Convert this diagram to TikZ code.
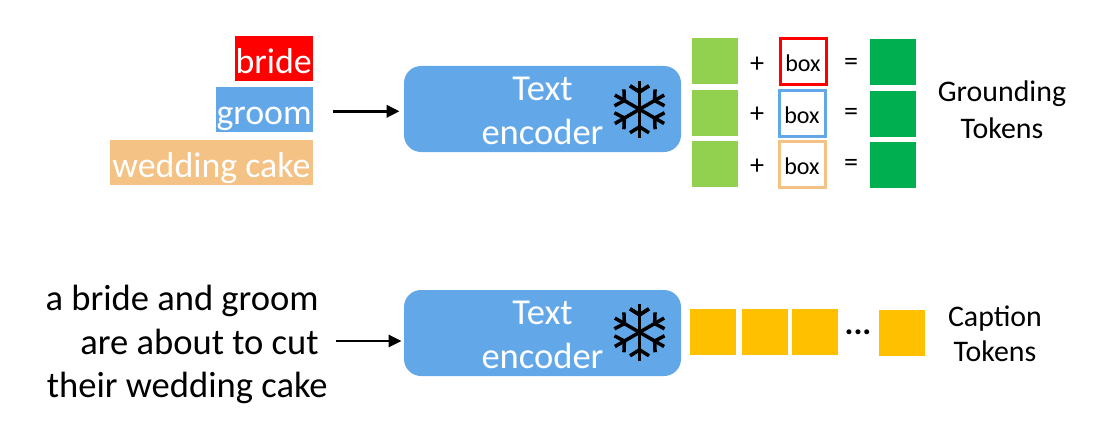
\documentclass[tikz,border=0pt]{standalone}
\usepackage{fontspec}
\setmainfont{Carlito}
\usetikzlibrary{calc,arrows.meta}
\definecolor{encblue}{HTML}{62A8E8}
\definecolor{tagred}{HTML}{FF0000}
\definecolor{tagorange}{HTML}{F4C284}
\definecolor{lgreen}{HTML}{92D050}
\definecolor{dgreen}{HTML}{00B050}
\definecolor{capyellow}{HTML}{FFC000}
\newcommand{\toprow}{\rule{0pt}{15pt}}
\tikzset{
  big/.style={font=\fontsize{20.8}{25}\selectfont},
  mid/.style={font=\fontsize{17}{21}\selectfont},
  tag/.style={font=\fontsize{20.4}{25}\selectfont,text=white,inner sep=0pt,inner xsep=0.5pt,text height=0.75cm,text depth=0.15cm,anchor=east},
  encoder/.style={big,text=white,fill=encblue,rounded corners=0.34cm,align=center,minimum width=5.54cm,minimum height=1.72cm,inner sep=0pt},
  token/.style={minimum size=0.92cm,inner sep=0pt},
  boxtok/.style={draw,line width=1.7pt,inner sep=0pt,text width=0.92cm,align=center,text height=0.66cm,text depth=0.26cm,font=\fontsize{13.7}{16}\selectfont},
  sign/.style={font=\fontsize{16}{18}\selectfont,inner sep=0pt},
  line/.style={big,inner sep=0pt,anchor=base east},
  conn/.style={-{Triangle[length=0.26cm,width=0.24cm]},line width=1.9pt}
}
\newcommand{\flake}[1]{
  \foreach \a in {90,150,...,450} {
    \draw [line width=2pt,rotate around={\a:(#1)}] (#1) -- ++(2.85,0);
    \draw [line width=2pt,rotate around={\a:(#1)}] ($(#1)+(2.35,0.95)$) -- ($(#1)+(1.75,0)$) -- ($(#1)+(2.35,-0.95)$);
  }
}
\begin{document}
\begin{tikzpicture}[scale=0.2]
\useasboundingbox (0,0) rectangle (109.8,-42.2);
% object names
\node [tag,fill=tagred] (bride) at (31.3,-5.85) {bride};
\node [tag,fill=encblue] (groom) at (31.3,-10.95) {groom};
\node [tag,fill=tagorange,inner xsep=1.3pt] (cake) at (31.3,-16.25) {wedding cake};
\coordinate (start1) at (33.3,-11.13);
% encoders
\node [encoder] (enc1) at (54.25,-10.9) {\toprow Text\\encoder};
\node [encoder] (enc2) at (54.25,-33.3) {\toprow Text\\encoder};
\coordinate (flake1) at (63.95,-10.93);
\coordinate (flake2) at (63.95,-33.23);
\flake{flake1}
\flake{flake2}
\draw [conn,shorten >=0.08cm] (start1) -- (start1 -| enc1.west);
% grounding tokens
\node [token,fill=lgreen] (obj1) at (71.5,-6.1) {};
\node [token,fill=lgreen] (obj2) at (71.5,-11.3) {};
\node [token,fill=lgreen] (obj3) at (71.5,-16.4) {};
\node [sign] (plus1) at (75.7,-6.5) {+};
\node [sign] (plus2) at (75.7,-11.5) {+};
\node [sign] (plus3) at (75.7,-16.7) {+};
\node [boxtok,draw=tagred] (box1) at (80.3,-6.17) {box};
\node [boxtok,draw=encblue] (box2) at (80.2,-11.32) {box};
\node [boxtok,draw=tagorange] (box3) at (80.2,-16.43) {box};
\node [sign] (eq1) at (85.1,-6.4) {=};
\node [sign] (eq2) at (85.1,-11.4) {=};
\node [sign] (eq3) at (85.1,-16.5) {=};
\node [token,fill=dgreen] (gt1) at (89.3,-6.2) {};
\node [token,fill=dgreen] (gt2) at (89.3,-11.4) {};
\node [token,fill=dgreen] (gt3) at (89.3,-16.5) {};
\node [mid,align=center,inner sep=0pt] (gtlabel) at (100.2,-11) {Grounding\\Tokens};
% caption
\node [line] (cap1) at (31.9,-31) {a bride and groom};
\node [line] (cap2) at (31.9,-35.4) {are about to cut};
\node [line] (cap3) at (32.8,-39.7) {their wedding cake};
\coordinate (start2) at (33.6,-34.1);
\draw [conn,line width=1.6pt,shorten >=0.04cm] (start2) -- (start2 -| enc2.west);
\node [token,fill=capyellow] (cap4) at (71.3,-33.2) {};
\node [token,fill=capyellow] (cap5) at (76.5,-33.2) {};
\node [token,fill=capyellow] (cap6) at (81.5,-33.2) {};
\node [sign,font=\fontsize{19}{24}\bfseries] (dots) at (85.8,-33.2) {...};
\node [token,fill=capyellow] (cap7) at (90.2,-33.3) {};
\node [mid,align=center,inner sep=0pt,font=\fontsize{17}{20}\selectfont] (ctlabel) at (99.5,-33.4) {Caption\\Tokens};
\end{tikzpicture}
\end{document}
